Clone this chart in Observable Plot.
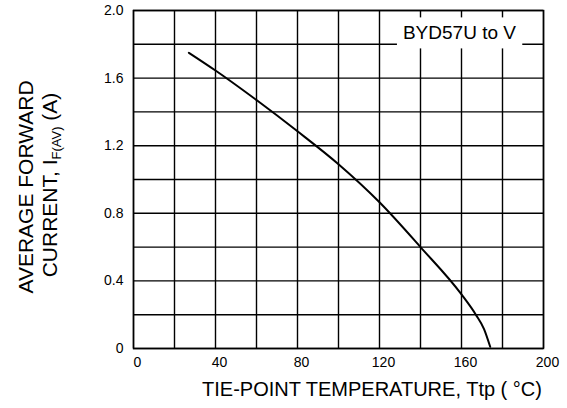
<!DOCTYPE html>
<html><head><meta charset="utf-8">
<script src="https://cdn.jsdelivr.net/npm/d3@7"></script>
<script src="https://cdn.jsdelivr.net/npm/@observablehq/plot@0.6"></script>
<style>body{margin:0;background:#fff} svg{font-family:"Liberation Sans",Arial,sans-serif}</style>
</head><body><div id="chart"></div>
<script>
// Tie-point temperature (°C) and average forward current (A)
const temperature = [27, 40, 60, 80, 100, 120, 140, 160, 167, 171, 174];
const current     = [1.75, 1.645, 1.47, 1.285, 1.09, 0.865, 0.60, 0.32, 0.20, 0.115, 0.01];
const xTicks = [0, 40, 80, 120, 160, 200];
const yTicks = [0, 0.4, 0.8, 1.2, 1.6, 2.0];
const xGrid = [0, 20, 40, 60, 80, 100, 120, 140, 160, 180, 200];
const yGrid = [0, 0.2, 0.4, 0.6, 0.8, 1.0, 1.2, 1.4, 1.6, 1.8, 2.0];
const seriesLabel = ["BYD57U to V"];
const labelPos = {x: 159, y: 1.865};

const data = temperature.map((t, i) => ({t, i: current[i]}));

const plot = Plot.plot({
  width: 567, height: 408,
  marginLeft: 133, marginRight: 24, marginTop: 10, marginBottom: 60,
  style: {fontFamily: "Liberation Sans, Arial, sans-serif", fontSize: "14px", color: "#000", background: "#fff"},
  x: {domain: [0, 200]},
  y: {domain: [0, 2]},
  marks: [
    Plot.ruleX(xGrid, {stroke: "#000", strokeWidth: 1.4}),
    Plot.ruleY(yGrid, {stroke: "#000", strokeWidth: 1.4}),
    Plot.axisX({ticks: xTicks, tickSize: 0, tickPadding: 9, dx: 4, label: null, fontSize: 14, tickFormat: d => String(d)}),
    Plot.axisY({ticks: yTicks, tickSize: 0, tickPadding: 10, label: null, fontSize: 14, tickFormat: d => d === 0 ? "0" : d.toFixed(1)}),
    Plot.line(data, {x: "t", y: "i", curve: "monotone-x", stroke: "#000", strokeWidth: 2}),
    Plot.text(seriesLabel, {x: () => labelPos.x, y: () => labelPos.y, text: d => d, fontSize: 19, fill: "#000"}),
    Plot.frame({stroke: "#000", strokeWidth: 1.5})
  ]
});
document.getElementById("chart").appendChild(plot);

const svg = d3.select(plot);
// white box behind the series label
svg.selectAll("text").filter(function() { return this.textContent === seriesLabel[0]; }).each(function() {
  const bb = this.getBBox();
  const r = d3.select(this.parentNode).insert("rect", () => this)
    .attr("x", bb.x - 6).attr("y", bb.y - 5)
    .attr("width", bb.width + 12).attr("height", bb.height + 10)
    .attr("fill", "#fff").attr("stroke", "none");
  const tr = this.getAttribute("transform");
  if (tr) r.attr("transform", tr);
});
// y-axis title (two lines, rotated)
svg.append("text")
  .attr("transform", "translate(26,187) rotate(-90)")
  .attr("text-anchor", "middle").attr("dy", "0.35em")
  .attr("font-size", 21).attr("fill", "#000")
  .text("AVERAGE FORWARD");
const t2 = svg.append("text")
  .attr("transform", "translate(50,185) rotate(-90)")
  .attr("text-anchor", "middle").attr("dy", "0.35em")
  .attr("font-size", 21).attr("fill", "#000");
t2.append("tspan").text("CURRENT, I");
t2.append("tspan").attr("font-size", 13).attr("dy", 4).text("F(AV)");
t2.append("tspan").attr("dy", -4).text(" (A)");
// x-axis title
svg.append("text")
  .attr("x", 372).attr("y", 389)
  .attr("text-anchor", "middle").attr("dy", "0.35em")
  .attr("font-size", 20).attr("fill", "#000")
  .text("TIE-POINT TEMPERATURE, Ttp ( \u00B0C)");
</script></body></html>
